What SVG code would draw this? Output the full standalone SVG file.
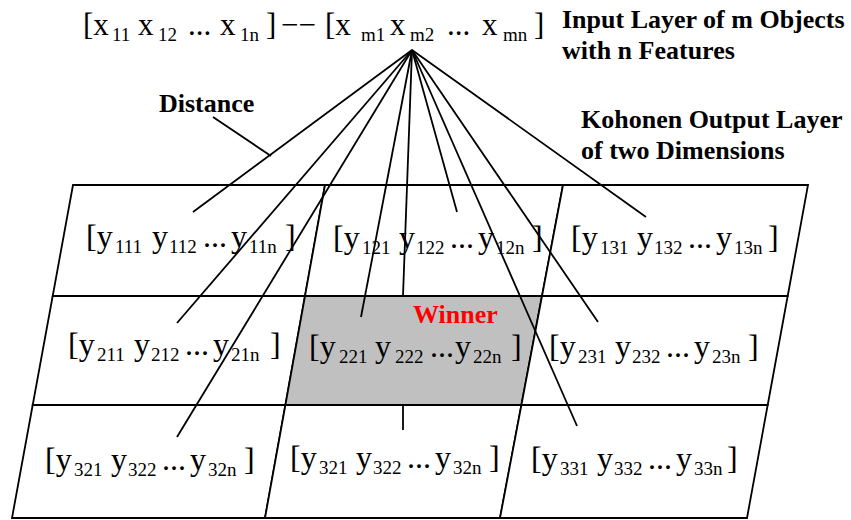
<svg xmlns="http://www.w3.org/2000/svg" width="851" height="520" viewBox="0 0 851 520">
<style>
.cell{fill:#fff;stroke:#000;stroke-width:1.8;stroke-linejoin:miter}
.win{fill:#c0c0c0}
.m{font-family:"Liberation Serif","Times New Roman",serif;font-size:32px;fill:#000}
.mt{font-family:"Liberation Serif","Times New Roman",serif;font-size:31px;fill:#000}
.s{font-size:19px}
.b{font-family:"Liberation Serif","Times New Roman",serif;font-size:26px;font-weight:bold;fill:#000}
.red{fill:#ff0000}
.c line{stroke:#000;stroke-width:1.8;stroke-linecap:butt}
</style>
<rect width="851" height="520" fill="#fff"/>

<g id="cell-11"><polygon class="cell" points="73,185 325,185 305,296 52.7,296"/>
<text class="m" y="247"><tspan x="86">[y</tspan><tspan class="s" x="115" dy="6">111</tspan><tspan x="152" dy="-6">y</tspan><tspan class="s" x="169" dy="6">112</tspan><tspan x="203" dy="-6">...</tspan><tspan x="231">y</tspan><tspan class="s" x="249" dy="6">11n</tspan><tspan x="285" dy="-6">]</tspan></text></g>

<g id="cell-12"><polygon class="cell" points="325,185 563,185 542,296 305,296"/>
<text class="m" y="248"><tspan x="333">[y</tspan><tspan class="s" x="362" dy="6">121</tspan><tspan x="399" dy="-6">y</tspan><tspan class="s" x="416" dy="6">122</tspan><tspan x="450" dy="-6">...</tspan><tspan x="478">y</tspan><tspan class="s" x="496" dy="6">12n</tspan><tspan x="532" dy="-6">]</tspan></text></g>

<g id="cell-13"><polygon class="cell" points="563,185 808,185 787.7,296 542,296"/>
<text class="m" y="248"><tspan x="571">[y</tspan><tspan class="s" x="600" dy="6">131</tspan><tspan x="637" dy="-6">y</tspan><tspan class="s" x="654" dy="6">132</tspan><tspan x="688" dy="-6">...</tspan><tspan x="716">y</tspan><tspan class="s" x="734" dy="6">13n</tspan><tspan x="768" dy="-6">]</tspan></text></g>

<g id="cell-21"><polygon class="cell" points="52.7,296 305,296 285.4,405 32.7,405"/>
<text class="m" y="355"><tspan x="68">[y</tspan><tspan class="s" x="97" dy="6">211</tspan><tspan x="134" dy="-6">y</tspan><tspan class="s" x="151" dy="6">212</tspan><tspan x="185" dy="-6">...</tspan><tspan x="213">y</tspan><tspan class="s" x="231" dy="6">21n</tspan><tspan x="270" dy="-6">]</tspan></text></g>

<g id="cell-22"><polygon class="cell win" points="305,296 542,296 521.4,405 285.4,405"/>
<text class="m" y="357"><tspan x="309">[y</tspan><tspan class="s" x="339" dy="6">221</tspan><tspan x="375" dy="-6">y</tspan><tspan class="s" x="395" dy="6">222</tspan><tspan x="430" dy="-6">...</tspan><tspan x="455">y</tspan><tspan class="s" x="473" dy="6">22n</tspan><tspan x="511" dy="-6">]</tspan></text>
<text class="b red" x="413" y="323">Winner</text></g>

<g id="cell-23"><polygon class="cell" points="542,296 787.7,296 767.7,405 521.4,405"/>
<text class="m" y="357"><tspan x="549">[y</tspan><tspan class="s" x="578" dy="6">231</tspan><tspan x="615" dy="-6">y</tspan><tspan class="s" x="632" dy="6">232</tspan><tspan x="666" dy="-6">...</tspan><tspan x="694">y</tspan><tspan class="s" x="712" dy="6">23n</tspan><tspan x="748" dy="-6">]</tspan></text></g>

<g id="cell-31"><polygon class="cell" points="32.7,405 285.4,405 265,518 12,518"/>
<text class="m" y="470"><tspan x="45">[y</tspan><tspan class="s" x="74" dy="6">321</tspan><tspan x="111" dy="-6">y</tspan><tspan class="s" x="128" dy="6">322</tspan><tspan x="162" dy="-6">...</tspan><tspan x="190">y</tspan><tspan class="s" x="208" dy="6">32n</tspan><tspan x="244" dy="-6">]</tspan></text></g>

<g id="cell-32"><polygon class="cell" points="285.4,405 521.4,405 500,518 265,518"/>
<text class="m" y="468"><tspan x="290">[y</tspan><tspan class="s" x="319" dy="6">321</tspan><tspan x="356" dy="-6">y</tspan><tspan class="s" x="373" dy="6">322</tspan><tspan x="407" dy="-6">...</tspan><tspan x="435">y</tspan><tspan class="s" x="453" dy="6">32n</tspan><tspan x="489" dy="-6">]</tspan></text></g>

<g id="cell-33"><polygon class="cell" points="521.4,405 767.7,405 747,518 500,518"/>
<text class="m" y="469"><tspan x="531">[y</tspan><tspan class="s" x="560" dy="6">331</tspan><tspan x="597" dy="-6">y</tspan><tspan class="s" x="614" dy="6">332</tspan><tspan x="648" dy="-6">...</tspan><tspan x="676">y</tspan><tspan class="s" x="694" dy="6">33n</tspan><tspan x="727" dy="-6">]</tspan></text></g>

<g id="input-vector">
<text class="mt" y="35"><tspan x="83">[x</tspan><tspan class="s" x="112" dy="6">11</tspan><tspan x="138" dy="-6">x</tspan><tspan class="s" x="158" dy="6">12</tspan><tspan x="188" dy="-6">...</tspan><tspan x="220">x</tspan><tspan class="s" x="240" dy="6">1n</tspan><tspan x="266" dy="-6">]</tspan><tspan x="281">−−</tspan><tspan x="325">[x</tspan><tspan class="s" x="361" dy="6">m1</tspan><tspan x="390" dy="-6">x</tspan><tspan class="s" x="410" dy="6">m2</tspan><tspan x="447" dy="-6">...</tspan><tspan x="482">x</tspan><tspan class="s" x="503" dy="6">mn</tspan><tspan x="534" dy="-6">]</tspan></text>
</g>

<g id="input-label"><text class="b" x="562" y="28">Input Layer of m Objects</text><text class="b" x="562" y="59">with n Features</text></g>
<g id="output-label"><text class="b" x="581" y="128">Kohonen Output Layer</text><text class="b" x="581" y="159">of two Dimensions</text></g>
<g id="distance-label"><text class="b" x="159" y="112">Distance</text></g>

<g id="connectors" class="c">
<line x1="412" y1="50" x2="193" y2="212"/>
<line x1="412" y1="50" x2="177" y2="323"/>
<line x1="412" y1="50" x2="177" y2="437"/>
<line x1="412" y1="50" x2="361" y2="317"/>
<line x1="412" y1="50" x2="403" y2="296"/>
<line x1="403" y1="405" x2="403" y2="430"/>
<line x1="412" y1="50" x2="457" y2="212"/>
<line x1="412" y1="50" x2="577" y2="426"/>
<line x1="412" y1="50" x2="598" y2="322"/>
<line x1="412" y1="50" x2="646" y2="217"/>
<line x1="213" y1="117" x2="271" y2="156"/>
</g>
</svg>
